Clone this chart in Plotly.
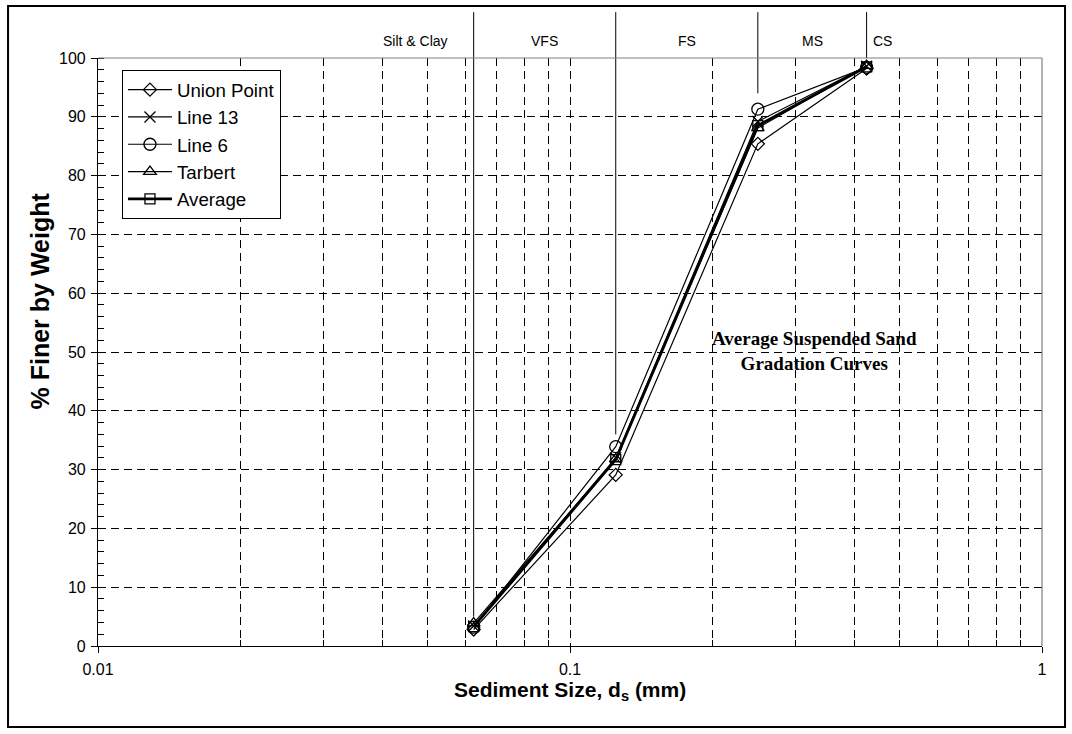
import math
import plotly.graph_objects as go

# ---------------- data ----------------
sizes_mm = [0.0625, 0.125, 0.25, 0.425]
union_point = [2.8, 29.1, 85.4, 98.2]
line_13 = [3.4, 32.0, 89.2, 98.6]
line_6 = [3.2, 33.9, 91.3, 98.4]
tarbert = [3.9, 31.8, 88.1, 98.7]
average = [3.3, 31.7, 88.5, 98.5]

series_names = ["Union Point", "Line 13", "Line 6", "Tarbert", "Average"]
series_values = [union_point, line_13, line_6, tarbert, average]
series_symbols = ["diamond-open", "x-thin-open", "circle-open", "triangle-up-open", "square-open"]
series_widths = [1.2, 1.2, 1.2, 1.2, 2.8]
series_msize = [10, 11, 12, 11, 10]

# class boundaries (mm) and where their marker lines stop (% finer)
boundaries = [0.0625, 0.125, 0.25, 0.425]
boundary_ends = [5.0, 36.0, 94.0, 100.0]
class_labels = ["Silt & Clay", "VFS", "FS", "MS", "CS"]
class_label_pos = [0.047, 0.0885, 0.177, 0.326, 0.46]

x_major = [0.01, 0.1, 1]
x_major_text = ["0.01", "0.1", "1"]
x_minor = [0.02, 0.03, 0.04, 0.05, 0.06, 0.07, 0.08, 0.09,
           0.2, 0.3, 0.4, 0.5, 0.6, 0.7, 0.8, 0.9]
y_ticks = [0, 10, 20, 30, 40, 50, 60, 70, 80, 90, 100]

Y_MIN, Y_MAX = 0, 100

fig = go.Figure()
for name, vals, sym, w, ms in zip(series_names, series_values, series_symbols,
                                  series_widths, series_msize):
    fig.add_trace(go.Scatter(
        x=sizes_mm, y=vals, name=name, mode="lines+markers",
        line=dict(color="black", width=w),
        marker=dict(symbol=sym, size=ms, color="black",
                    line=dict(color="black", width=1.3)),
        legendgroup=name, cliponaxis=False,
    ))

FONT = "Liberation Sans, Arial, sans-serif"
SERIF = "Liberation Serif, Times New Roman, serif"

shapes = []
top_paper = 1.078
for bx, be in zip(boundaries, boundary_ends):
    shapes.append(dict(type="line", xref="x", yref="paper",
                       x0=bx, x1=bx,
                       y0=(be - Y_MIN) / (Y_MAX - Y_MIN), y1=top_paper,
                       line=dict(color="black", width=1), layer="above"))
# plot-area border (top & right gray)
shapes.append(dict(type="line", xref="paper", yref="paper", x0=0, x1=1, y0=1, y1=1,
                   line=dict(color="#808080", width=1.2)))
shapes.append(dict(type="line", xref="paper", yref="paper", x0=1, x1=1, y0=0, y1=1,
                   line=dict(color="#808080", width=1.2)))
# outer chart frame
shapes.append(dict(type="rect", xref="paper", yref="paper",
                   x0=-0.0953, x1=1.0244, y0=-0.1378, y1=1.0884,
                   line=dict(color="black", width=2)))

annotations = []
for lab, lx in zip(class_labels, class_label_pos):
    annotations.append(dict(text=lab, xref="x", yref="paper", x=math.log10(lx), y=1.029,
                            showarrow=False, font=dict(family=FONT, size=14, color="black"),
                            xanchor="center", yanchor="middle"))
annotations.append(dict(text="<b>Average Suspended Sand<br>Gradation Curves</b>",
                        xref="paper", yref="paper", x=0.7595, y=0.501,
                        showarrow=False, align="center",
                        font=dict(family=SERIF, size=19, color="black"),
                        xanchor="center", yanchor="middle"))
annotations.append(dict(text="<b>Sediment Size, d<sub>s</sub> (mm)</b>",
                        xref="paper", yref="paper", x=0.5, y=-0.0765,
                        showarrow=False, font=dict(family=FONT, size=21, color="black"),
                        xanchor="center", yanchor="middle"))
annotations.append(dict(text="<b>% Finer by Weight</b>", textangle=-90,
                        xref="paper", yref="paper", x=-0.0614, y=0.586,
                        showarrow=False, font=dict(family=FONT, size=25, color="black"),
                        xanchor="center", yanchor="middle"))

fig.update_layout(
    width=1072, height=734,
    margin=dict(l=98, r=30, t=58, b=88),
    paper_bgcolor="white", plot_bgcolor="white",
    font=dict(family=FONT, size=16, color="black"),
    showlegend=True,
    legend=dict(x=0.0254, y=0.9796, xanchor="left", yanchor="top",
                bordercolor="black", borderwidth=1, bgcolor="white",
                font=dict(family=FONT, size=18.7, color="black"),
                traceorder="grouped", tracegroupgap=0,
                itemwidth=44),
    xaxis=dict(type="log", range=[-2, 0],
               tickmode="array", tickvals=x_major, ticktext=x_major_text,
               ticks="outside", ticklen=6, tickcolor="black", ticklabelstandoff=3,
               showline=True, linecolor="black", linewidth=1.2,
               showgrid=True, gridcolor="black", gridwidth=1, griddash="8px,5px",
               minor=dict(tickmode="array", tickvals=x_minor, ticks="inside", ticklen=6,
                          tickcolor="black", showgrid=True, gridcolor="black",
                          gridwidth=1, griddash="8px,5px"),
               tickfont=dict(family=FONT, size=16), zeroline=False),
    yaxis=dict(range=[Y_MIN, Y_MAX], tickmode="array", tickvals=y_ticks,
               ticks="outside", ticklen=6, tickcolor="black", ticklabelstandoff=2,
               showline=True, linecolor="black", linewidth=1.2,
               showgrid=True, gridcolor="black", gridwidth=1, griddash="8px,5px",
               minor=dict(dtick=2, ticks="inside", ticklen=6, tickcolor="black",
                          showgrid=False),
               tickfont=dict(family=FONT, size=16), zeroline=False),
    shapes=shapes, annotations=annotations,
)

fig.write_html("out.html")
